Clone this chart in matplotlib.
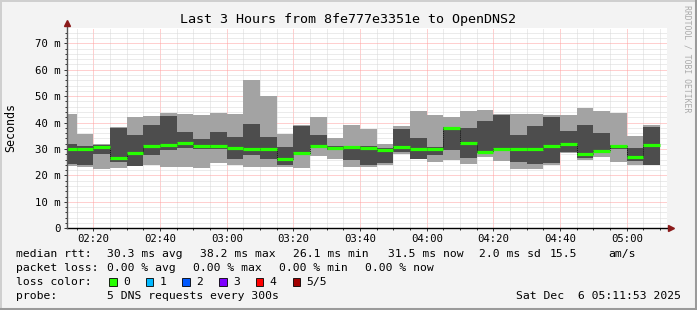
import numpy as np
import matplotlib.pyplot as plt
from matplotlib.ticker import MultipleLocator, FuncFormatter
from matplotlib.patches import Rectangle
from matplotlib.lines import Line2D

# 5 minute slots (start time), sorted pings per slot in ms
slots = ["02:10", "02:15", "02:20", "02:25", "02:30", "02:35", "02:40", "02:45",
         "02:50", "02:55", "03:00", "03:05", "03:10", "03:15", "03:20", "03:25",
         "03:30", "03:35", "03:40", "03:45", "03:50", "03:55", "04:00", "04:05",
         "04:10", "04:15", "04:20", "04:25", "04:30", "04:35", "04:40", "04:45",
         "04:50", "04:55", "05:00", "05:05"]
ping_min = [23.6, 23.3, 22.6, 22.9, 23.5, 24.0, 23.3, 23.1, 22.7, 24.8, 24.1, 23.1,
            23.1, 23.3, 22.7, 27.4, 26.1, 23.3, 23.1, 24.1, 28.1, 26.1, 25.1, 25.8,
            24.3, 27.1, 25.6, 22.3, 22.5, 23.8, 28.6, 25.8, 26.9, 25.2, 23.8, 24.0]
ping_lo = [24.3, 24.0, 28.1, 25.2, 23.6, 27.7, 29.6, 30.4, 30.1, 30.1, 26.3, 27.7,
           26.1, 24.0, 27.7, 30.3, 29.6, 25.8, 24.0, 24.6, 29.0, 26.1, 27.7, 29.6,
           26.5, 28.4, 29.4, 25.1, 24.2, 24.8, 29.0, 26.5, 28.9, 30.1, 25.6, 24.0]
median = [29.9, 29.9, 30.6, 26.5, 28.6, 31.0, 31.6, 32.2, 31.1, 31.0, 30.3, 29.9,
          29.9, 26.1, 28.6, 31.0, 30.3, 30.6, 30.3, 29.5, 30.9, 30.1, 30.1, 37.9,
          32.2, 29.0, 29.9, 29.9, 29.9, 31.1, 32.0, 28.1, 29.4, 31.0, 27.1, 31.4]
ping_hi = [31.9, 31.1, 31.4, 37.9, 35.3, 39.1, 42.6, 36.4, 33.8, 36.4, 34.4, 39.5,
           34.4, 30.6, 38.8, 35.3, 31.1, 31.1, 31.1, 30.4, 37.6, 34.2, 30.6, 38.2,
           37.8, 40.6, 42.9, 35.3, 38.7, 42.1, 36.8, 39.1, 36.2, 31.4, 30.4, 38.4]
ping_max = [43.2, 35.7, 31.9, 38.4, 42.0, 42.5, 43.5, 43.2, 43.0, 43.7, 43.2, 56.1,
            50.0, 35.7, 39.1, 42.0, 34.0, 39.1, 37.7, 31.9, 38.7, 44.4, 42.9, 42.1,
            44.4, 44.8, 43.1, 43.1, 43.1, 42.9, 43.0, 45.6, 44.4, 43.7, 34.9, 39.1]

loss_labels = ["0", "1", "2", "3", "4", "5/5"]
loss_colors = ["#26ff00", "#00b8ff", "#0059ff", "#7e00ff", "#ff0000", "#a10000"]

W, H = 697, 310
MONO = "DejaVu Sans Mono"
fig = plt.figure(figsize=(W / 100, H / 100), dpi=100, facecolor="#f3f3f3")


def ftext(x, y, s, **kw):
    kw.setdefault("family", MONO)
    kw.setdefault("size", 8.2)
    kw.setdefault("va", "center")
    return fig.text(x / W, 1 - y / H, s, **kw)


ax = fig.add_axes([66.7 / W, 1 - 228.3 / H, 600 / W, 200.3 / H])
ax.set_facecolor("white")

t0 = np.array([int(s[:2]) * 60 + int(s[3:]) for s in slots])
lo = np.array(ping_lo)
hi = np.array(ping_hi)
ax.bar(t0, np.array(ping_max) - np.array(ping_min), bottom=ping_min, width=5,
       align="edge", color="#a3a3a3", lw=0, zorder=2)
ax.bar(t0, hi - lo, bottom=lo, width=5, align="edge", color="#4d4d4d", lw=0, zorder=3)
ax.step(np.append(t0, t0[-1] + 5), np.append(median, median[-1]), where="post",
        color="#111111", lw=0.7, ls=(0, (1, 1)), zorder=4)
ax.hlines(median, t0, t0 + 5, color="#26ff00", lw=2.3, zorder=5)

ax.set_xlim(132, 312)
ax.set_ylim(0, 75.8)
ax.set_axisbelow(True)
ax.xaxis.set_major_locator(MultipleLocator(20))
ax.xaxis.set_minor_locator(MultipleLocator(5))
ax.yaxis.set_major_locator(MultipleLocator(10))
ax.yaxis.set_minor_locator(MultipleLocator(2))
ax.xaxis.set_major_formatter(FuncFormatter(lambda v, p: "%02d:%02d" % (v // 60, v % 60)))
ax.yaxis.set_major_formatter(FuncFormatter(lambda v, p: "0" if v == 0 else "%d m" % v))
ax.grid(which="minor", color="#d8d8d8", lw=0.72, ls=(0, (1, 1)))
ax.grid(which="major", color="#ffa0a0", lw=0.72, ls=(0, (1, 1)))
for s in ax.spines.values():
    s.set_visible(False)
ax.tick_params(which="major", length=2.2, width=0.7, labelsize=7.7, color="#333333")
ax.tick_params(which="minor", length=1.4, width=0.7, color="#333333")
ax.tick_params(axis="y", pad=2.5)
ax.tick_params(axis="x", pad=2.0)
for lab in ax.get_xticklabels() + ax.get_yticklabels():
    lab.set_family(MONO)

# axes with arrows
ax.plot([132, 312.8], [0, 0], color="black", lw=1, clip_on=False, zorder=6)
ax.plot([132, 132], [0, 77.5], color="#555555", lw=1, clip_on=False, zorder=6)
ax.plot(313.2, 0, marker=">", ms=4, color="#8b1a1a", clip_on=False, zorder=7)
ax.plot(132, 77.8, marker="^", ms=4, color="#8b1a1a", clip_on=False, zorder=7)

ftext(348.5, 19.5, "Last 3 Hours from 8fe777e3351e to OpenDNS2", ha="center", size=9.6)
ftext(10.8, 127.5, "Seconds", rotation=90, ha="center", size=8.4)
ftext(687, 5, "RRDTOOL / TOBI OETIKER", rotation=270, ha="center", va="top",
      size=5.9, color="#aaaaaa")

# legend lines
y1, y2, y3, y4 = 254.3, 267.7, 282.3, 295.7
for x, s in [(16, "median rtt:"), (107.3, "30.3 ms avg"), (200, "38.2 ms max"),
             (293.3, "26.1 ms min"), (388, "31.5 ms now"), (479.3, "2.0 ms sd"),
             (549.3, "15.5"), (608.3, "am/s")]:
    ftext(x, y1, s)
for x, s in [(16, "packet loss:"), (107.3, "0.00 % avg"), (193.3, "0.00 % max"),
             (279.3, "0.00 % min"), (365, "0.00 % now")]:
    ftext(x, y2, s)
ftext(16, y3, "loss color:")
for i, (lab, col) in enumerate(zip(loss_labels, loss_colors)):
    bx = 109 + 36.7 * i
    fig.add_artist(Rectangle((bx / W, 1 - (y3 + 3.5) / H), 7.5 / W, 7.5 / H,
                             transform=fig.transFigure, facecolor=col,
                             edgecolor="black", lw=0.6))
    ftext(bx + 14, y3, lab)
ftext(16, y4, "probe:")
ftext(107.3, y4, "5 DNS requests every 300s")
ftext(680.7, y4, "Sat Dec  6 05:11:53 2025", ha="right")

# image frame
fig.add_artist(Line2D([0, 1], [1 - 0.5 / H, 1 - 0.5 / H], transform=fig.transFigure,
                      color="#cfcfcf", lw=1.4))
fig.add_artist(Line2D([0.5 / W, 0.5 / W], [0, 1], transform=fig.transFigure,
                      color="#cfcfcf", lw=1.4))
fig.add_artist(Line2D([1 - 1.5 / W, 1 - 1.5 / W], [0, 1], transform=fig.transFigure,
                      color="#9a9a9a", lw=2.2))
fig.add_artist(Line2D([0, 1], [1.5 / H, 1.5 / H], transform=fig.transFigure,
                      color="#9a9a9a", lw=2.2))

fig.savefig("out.png", dpi=100, facecolor=fig.get_facecolor())
